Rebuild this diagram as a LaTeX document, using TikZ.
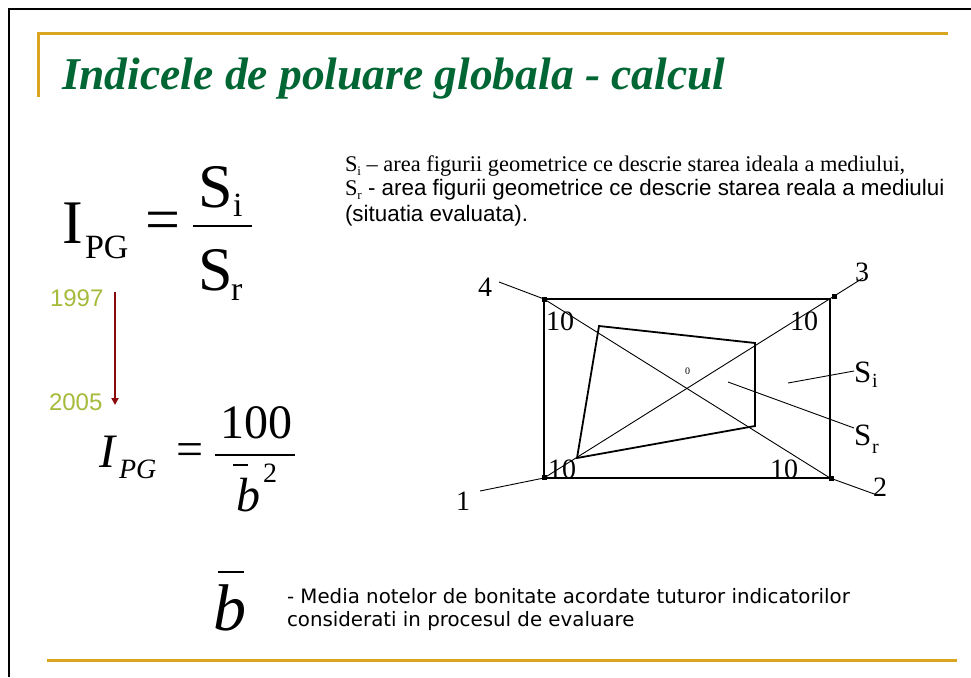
\documentclass[tikz,border=0pt]{standalone}
\usepackage{fontspec}
\setmainfont{Liberation Serif}
\newfontfamily\arialf{Liberation Sans}
\newfontfamily\tahomaf{DejaVu Sans}
\usetikzlibrary{arrows.meta}
\definecolor{titlegreen}{RGB}{0,102,51}
\definecolor{goldline}{RGB}{218,165,32}
\definecolor{yeargreen}{RGB}{166,186,60}
\definecolor{arrowred}{RGB}{139,10,10}
\newcommand{\fs}[1]{\fontsize{#1}{#1}\selectfont}
\begin{document}
\begin{tikzpicture}[x=1pt,y=-1pt,
  every node/.style={inner sep=0pt,outer sep=0pt},
  txt/.style={anchor=base west},
  dotc/.style={fill=black,minimum size=5pt,inner sep=0pt,shape=rectangle},
  leader/.style={line width=0.9pt},
  boxline/.style={line width=1.8pt}]
\useasboundingbox (0,0) rectangle (971,677);
\fill[white] (0,0) rectangle (971,677);
% frame
\draw[line width=2.5pt] (9,677) -- (9,9) -- (971,9);
\draw[goldline,line width=3pt] (38,97) -- (38,34) -- (948,34);
\draw[goldline,line width=3pt] (47,660) -- (957,660);
% title
\node[txt,text=titlegreen,font=\fs{45.5}\bfseries\itshape] (title) at (62,89) {Indicele de poluare globala - calcul};
% formula 1
\node[txt,font=\fs{62}] (I1) at (62,243) {I};
\node[txt,font=\fs{34}] (PG1) at (85,258) {PG};
\node[font=\fs{62}] (eq1) at (163,226) {=};
\node[txt,font=\fs{62}] (Snum) at (198,207) {S};
\node[txt,font=\fs{34}] (inum) at (233,216) {i};
\draw[line width=2.5pt] (193,226) coordinate (bar1a) -- (252,226) coordinate (bar1b);
\node[txt,font=\fs{62}] (Sden) at (198,290) {S};
\node[txt,font=\fs{34}] (rden) at (231,300) {r};
% years
\node[txt,text=yeargreen,font=\arialf\fs{24}] (y1997) at (50,306) {1997};
\node[txt,text=yeargreen,font=\arialf\fs{24}] (y2005) at (49,410) {2005};
\coordinate (arrS) at (115,292);
\coordinate (arrE) at (115,405);
\draw[arrowred,line width=2pt,-{Triangle[length=7pt,width=7pt]}] (arrS) -- (arrE);
% formula 2
\node[txt,font=\fs{48}\itshape] (I2) at (99,467) {I};
\node[txt,font=\fs{28}\itshape] (PG2) at (119,478) {PG};
\node[font=\fs{48}] (eq2) at (190,455) {=};
\node[txt,font=\fs{48}] (hund) at (220,438) {100};
\draw[line width=2pt] (215,455) coordinate (bar2a) -- (295,455) coordinate (bar2b);
\node[txt,font=\fs{48}\itshape] (b2) at (236,511) {b};
\draw[line width=2pt] (233,465) coordinate (ol2a) -- (248,465) coordinate (ol2b);
\node[txt,font=\fs{28}] (sq) at (263,482) {2};
% b bar bottom
\node[txt,font=\fs{66}\itshape] (bbig) at (213,630) {b};
\draw[line width=2.5pt] (218,572) coordinate (ol3a) -- (244,572) coordinate (ol3b);
\node[txt,font=\tahomaf\fs{19.8}] (media1) at (287,603) {- Media notelor de bonitate acordate tuturor indicatorilor};
\node[txt,font=\tahomaf\fs{19.8}] (media2) at (287,626) {considerati in procesul de evaluare};
% right text
\node[txt,font=\fs{22.4}] (line1) at (345,171) {S\raisebox{-0.18em}{\fs{13}i} – area figurii geometrice ce descrie starea ideala a mediului,};
\node[txt,font=\fs{22.4}] (line2) at (345,195) {S\raisebox{-0.18em}{\fs{13}r}\arialf{} - area figurii geometrice ce descrie starea reala a mediului};
\node[txt,font=\arialf\fs{22.4}] (line3) at (345,221) {(situatia evaluata).};
% diagram
\coordinate (c1) at (544,478);
\coordinate (c2) at (830,478);
\coordinate (c3) at (830,299);
\coordinate (c4) at (544,299);
\coordinate (qa) at (599,326);
\coordinate (qb) at (755,343);
\coordinate (qc) at (755,426);
\coordinate (qd) at (577,458);
\coordinate (l4) at (499,282);
\coordinate (l3) at (863,278);
\coordinate (l1) at (480,491);
\coordinate (l2) at (877,495);
\draw[boxline] (c1) rectangle (c3);
\draw[boxline] (qa) -- (qb) -- (qc) -- (qd) -- cycle;
\draw[leader] (l4) -- (c4) -- (c2) -- (l2);
\draw[leader] (l1) -- (c1) -- (l3);
\node[dotc] (d4) at (544,299) {};
\node[dotc] (d1) at (544,477) {};
\node[dotc] (d2) at (831,478) {};
\node[dotc] (d3) at (834,296) {};
\node[font=\fs{28}] (n4) at (485,287) {4};
\node[font=\fs{28}] (n3) at (862,272) {3};
\node[font=\fs{28}] (n1) at (463,501) {1};
\node[font=\fs{28}] (n2) at (880,487) {2};
\node[txt,font=\fs{28}] (t10a) at (546,330) {10};
\node[txt,font=\fs{28}] (t10b) at (790,330) {10};
\node[txt,font=\fs{28}] (t10c) at (548,478) {10};
\node[txt,font=\fs{28}] (t10d) at (770,478) {10};
\node[txt,font=\fs{10}] (zero) at (685,374) {0};
\node[txt,font=\fs{31}] (Si) at (854,382) {S};
\node[txt,font=\fs{20}] (Sii) at (872,387) {i};
\node[txt,font=\fs{31}] (Sr) at (854,445) {S};
\node[txt,font=\fs{20}] (Srr) at (872,453) {r};
\coordinate (si0) at (788,383);
\coordinate (sr0) at (728,382);
\draw[leader] (si0) -- (Si.west |- 0,371);
\draw[leader] (sr0) -- (Sr.west |- 0,428);
\end{tikzpicture}
\end{document}
